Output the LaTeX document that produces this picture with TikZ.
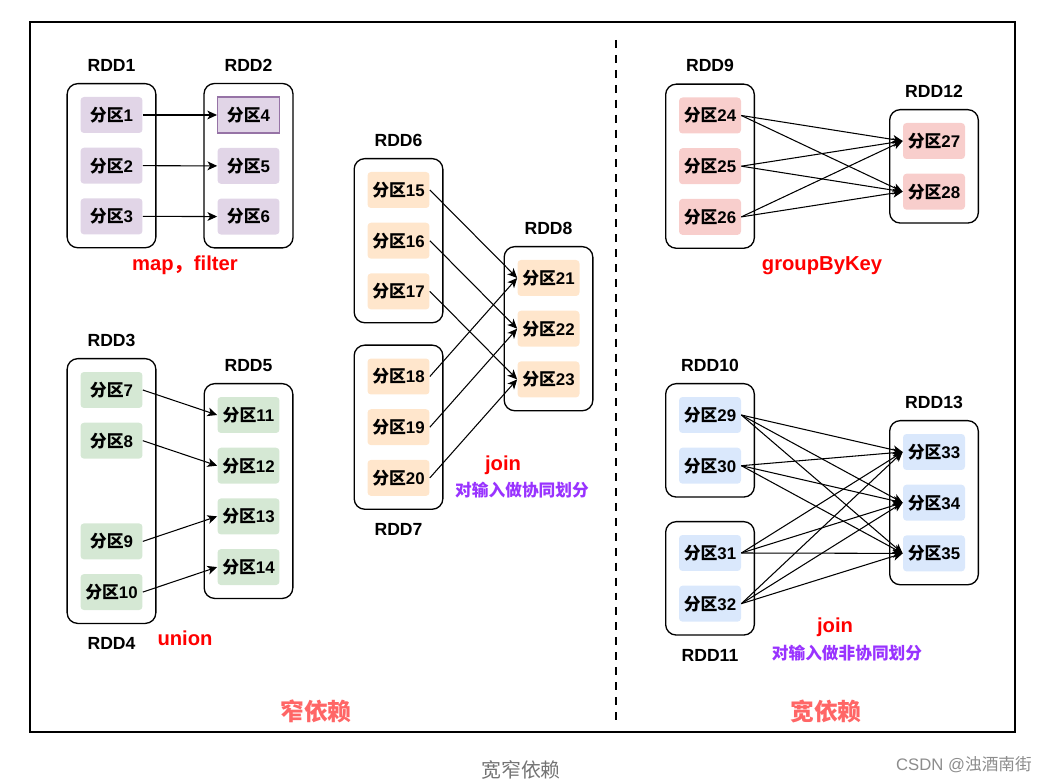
\documentclass[tikz,border=0pt]{standalone}
\usepackage{fontspec}
\setmainfont{Liberation Sans}
\newfontfamily\cjk{Noto Sans CJK SC}
\usetikzlibrary{positioning,fit,arrows.meta}

\definecolor{purp}{HTML}{E1D5E7}
\definecolor{purpline}{HTML}{9673A6}
\definecolor{grn}{HTML}{D5E8D4}
\definecolor{orng}{HTML}{FFE6CC}
\definecolor{pink}{HTML}{F8CECC}
\definecolor{blu}{HTML}{DAE8FC}
\definecolor{notecol}{HTML}{9933FF}
\definecolor{titlecol}{HTML}{FF6666}

\newcommand{\fq}[1]{{\cjk 分区}#1}

\tikzset{
  rdd/.style={draw, rounded corners=6pt, line width=0.75pt, inner sep=0.26cm},
  part/.style={fill=#1, rounded corners=2pt, minimum width=1.24cm, minimum height=0.72cm,
    inner sep=0pt, font=\fontsize{9.6}{12}\selectfont\bfseries},
  lbl/.style={font=\fontsize{10}{12}\selectfont\bfseries},
  op/.style={text=red, font=\fontsize{11.5}{14}\selectfont\bfseries},
  note/.style={text=notecol, font=\cjk\fontsize{9.5}{12}\selectfont\bfseries},
  dep/.style={-{Stealth[length=5.5pt, width=5pt, inset=1.5pt]}, line width=0.6pt},
  pagetitle/.style={text=titlecol, font=\cjk\fontsize{13.5}{16}\selectfont\bfseries},
}

\begin{document}
\begin{tikzpicture}[x=0.02cm, y=-0.02cm, node distance=0.28cm]
  \useasboundingbox (0,0) rectangle (1048,783);
  \draw[line width=0.6pt] (30,22) rectangle (1015,732);
  \draw[line width=1.2pt, dash pattern=on 4.5pt off 4pt] (616,40) -- (616,720);

  % narrow: map, filter
  \node[part=purp] (p1) at (111.5,115) {\fq{1}};
  \node[part=purp, below=of p1] (p2) {\fq{2}};
  \node[part=purp, below=of p2] (p3) {\fq{3}};
  \node[part=purp, draw=purpline, sharp corners, line width=0.6pt] (p4) at (248.5,115) {\fq{4}};
  \node[part=purp, below=of p4] (p5) {\fq{5}};
  \node[part=purp, below=of p5] (p6) {\fq{6}};
  \node[rdd, fit=(p1)(p3)] (rdd1) {};
  \node[rdd, fit=(p4)(p6)] (rdd2) {};
  \node[lbl, above=3pt of rdd1] (l1) {RDD1};
  \node[lbl, above=3pt of rdd2] (l2) {RDD2};
  \draw[dep] (p1.east) -- (p4.west);
  \draw[dep] (p2.east) -- (p5.west);
  \draw[dep] (p3.east) -- (p6.west);
  \node[op] (opmap) at (185,265) {map{\cjk ，}filter};

  % narrow: union
  \node[part=grn] (p7) at (111.5,390) {\fq{7}};
  \node[part=grn, below=of p7] (p8) {\fq{8}};
  \node[part=grn, below=1.28cm of p8] (p9) {\fq{9}};
  \node[part=grn, below=of p9] (p10) {\fq{10}};
  \node[part=grn] (p11) at (248.5,415) {\fq{11}};
  \node[part=grn, below=of p11] (p12) {\fq{12}};
  \node[part=grn, below=of p12] (p13) {\fq{13}};
  \node[part=grn, below=of p13] (p14) {\fq{14}};
  \node[rdd, fit=(p7)(p10)] (rdd3) {};
  \node[rdd, fit=(p11)(p14)] (rdd5) {};
  \node[lbl, above=3pt of rdd3] (l3) {RDD3};
  \node[lbl, below=4pt of rdd3] (l4) {RDD4};
  \node[lbl, above=3pt of rdd5] (l5) {RDD5};
  \draw[dep] (p7.east) -- (p11.west);
  \draw[dep] (p8.east) -- (p12.west);
  \draw[dep] (p9.east) -- (p13.west);
  \draw[dep] (p10.east) -- (p14.west);
  \node[op] (opunion) at (185,638) {union};

  % narrow: join (co-partitioned)
  \node[part=orng] (p15) at (398.5,190) {\fq{15}};
  \node[part=orng, below=of p15] (p16) {\fq{16}};
  \node[part=orng, below=of p16] (p17) {\fq{17}};
  \node[part=orng] (p18) at (398.5,376.5) {\fq{18}};
  \node[part=orng, below=of p18] (p19) {\fq{19}};
  \node[part=orng, below=of p19] (p20) {\fq{20}};
  \node[part=orng] (p21) at (548.5,278) {\fq{21}};
  \node[part=orng, below=of p21] (p22) {\fq{22}};
  \node[part=orng, below=of p22] (p23) {\fq{23}};
  \node[rdd, fit=(p15)(p17)] (rdd6) {};
  \node[rdd, fit=(p18)(p20)] (rdd7) {};
  \node[rdd, fit=(p21)(p23)] (rdd8) {};
  \node[lbl, above=3pt of rdd6] (l6) {RDD6};
  \node[lbl, below=4pt of rdd7] (l7) {RDD7};
  \node[lbl, above=3pt of rdd8] (l8) {RDD8};
  \draw[dep] (p15.east) -- (p21.west);
  \draw[dep] (p16.east) -- (p22.west);
  \draw[dep] (p17.east) -- (p23.west);
  \draw[dep] (p18.east) -- (p21.west);
  \draw[dep] (p19.east) -- (p22.west);
  \draw[dep] (p20.east) -- (p23.west);
  \node[op] (opjoin1) at (503,465) {join};
  \node[note] (note1) at (522,490) {对输入做协同划分};

  % wide: groupByKey
  \node[part=pink] (p24) at (710,115.5) {\fq{24}};
  \node[part=pink, below=of p24] (p25) {\fq{25}};
  \node[part=pink, below=of p25] (p26) {\fq{26}};
  \node[part=pink] (p27) at (934,141) {\fq{27}};
  \node[part=pink, below=of p27] (p28) {\fq{28}};
  \node[rdd, fit=(p24)(p26)] (rdd9) {};
  \node[rdd, fit=(p27)(p28)] (rdd12) {};
  \node[lbl, above=3pt of rdd9] (l9) {RDD9};
  \node[lbl, above=3pt of rdd12] (l12) {RDD12};
  \foreach \a in {24,25,26}
    \foreach \b in {27,28}
      \draw[dep] (p\a.east) -- (p\b.west);
  \node[op] (opgroup) at (822,266) {groupByKey};

  % wide: join (not co-partitioned)
  \node[part=blu] (p29) at (710,415) {\fq{29}};
  \node[part=blu, below=of p29] (p30) {\fq{30}};
  \node[part=blu] (p31) at (710,553) {\fq{31}};
  \node[part=blu, below=of p31] (p32) {\fq{32}};
  \node[part=blu] (p33) at (934,452) {\fq{33}};
  \node[part=blu, below=of p33] (p34) {\fq{34}};
  \node[part=blu, below=of p34] (p35) {\fq{35}};
  \node[rdd, fit=(p29)(p30)] (rdd10) {};
  \node[rdd, fit=(p31)(p32)] (rdd11) {};
  \node[rdd, fit=(p33)(p35)] (rdd13) {};
  \node[lbl, above=3pt of rdd10] (l10) {RDD10};
  \node[lbl, below=4pt of rdd11] (l11) {RDD11};
  \node[lbl, above=3pt of rdd13] (l13) {RDD13};
  \foreach \a in {29,30,31,32}
    \foreach \b in {33,34,35}
      \draw[dep] (p\a.east) -- (p\b.west);
  \node[op] (opjoin2) at (835,627) {join};
  \node[note] (note2) at (847,653) {对输入做非协同划分};

  \node[pagetitle] (narrow) at (316,711) {窄依赖};
  \node[pagetitle] (wide) at (826,711) {宽依赖};
  \node[text=black!55, font=\cjk\fontsize{11.3}{14}\selectfont] (cap) at (521,770) {宽窄依赖};
  \node[text=black!45, font=\fontsize{9.5}{12}\selectfont] (csdn) at (964,765) {CSDN @{\cjk 浊酒南街}};
\end{tikzpicture}
\end{document}
